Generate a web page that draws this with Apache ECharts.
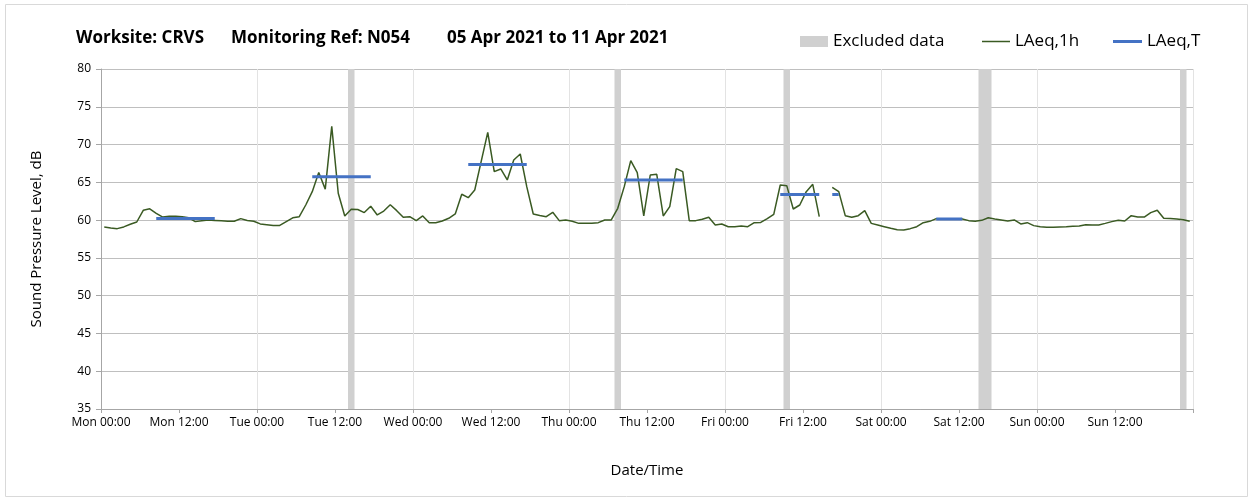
<!DOCTYPE html>
<html>
<head>
<meta charset="utf-8">
<script src="https://cdn.jsdelivr.net/npm/echarts@6/dist/echarts.min.js"></script>
<style>
  html, body { margin: 0; padding: 0; background: #fff; }
  #chart { width: 1253px; height: 503px; }
</style>
</head>
<body>
<div id="chart"></div>
<script>
// tick labels, one every 12 hours from Mon 00:00
var tickLabels = ['Mon 00:00', 'Mon 12:00', 'Tue 00:00', 'Tue 12:00', 'Wed 00:00', 'Wed 12:00',
  'Thu 00:00', 'Thu 12:00', 'Fri 00:00', 'Fri 12:00', 'Sat 00:00', 'Sat 12:00',
  'Sun 00:00', 'Sun 12:00', ''];

// hourly LAeq,1h values (hour index 0 = Mon 00:00), null = no data
var laeq1h = [
  59.1, 58.96, 58.87, 59.1, 59.45, 59.75, 61.3, 61.5, 60.9, 60.4, 60.5, 60.5,
  60.45, 60.3, 59.8, 59.9, 60.0, 59.95, 59.9, 59.85, 59.85, 60.2, 59.95, 59.85,
  59.5, 59.4, 59.3, 59.3, 59.8, 60.3, 60.45, 62.0, 63.76, 66.3, 64.1, 72.4,
  63.55, 60.55, 61.43, 61.4, 61.0, 61.83, 60.68, 61.2, 62.04, 61.25, 60.37, 60.45,
  59.93, 60.55, 59.66, 59.66, 59.88, 60.24, 60.81, 63.42, 62.97, 63.99, 67.8, 71.62,
  66.41, 66.77, 65.31, 67.96, 68.75, 64.43, 60.81, 60.6, 60.45, 61.03, 59.93, 60.0,
  59.85, 59.57, 59.57, 59.57, 59.66, 60.02, 60.02, 61.56, 64.43, 67.87, 66.28, 60.55,
  65.97, 66.06, 60.55, 61.78, 66.81, 66.41, 59.93, 59.93, 60.11, 60.37, 59.35, 59.49,
  59.13, 59.13, 59.22, 59.13, 59.66, 59.7, 60.19, 60.77, 64.65, 64.56, 61.47, 62.0,
  63.76, 64.74, 60.45, null, 64.34, 63.77, 60.59, 60.37, 60.59, 61.25, 59.57, 59.35,
  59.13, 58.91, 58.73, 58.69, 58.87, 59.13, 59.66, 59.84, 60.19, 60.19, 60.15, 60.15,
  60.15, 59.93, 59.84, 59.97, 60.32, 60.15, 60.02, 59.88, 60.02, 59.49, 59.66, 59.27,
  59.13, 59.04, 59.04, 59.09, 59.13, 59.18, 59.22, 59.4, 59.35, 59.35, 59.57, 59.8,
  59.97, 59.88, 60.59, 60.41, 60.41, 60.99, 61.3, 60.24, 60.2, 60.15, 60.06, 59.84
];

// LAeq,T periods (first and last hour index) and level
var periodStart = [8, 32, 56, 80, 104, 112, 128];
var periodEnd = [17, 41, 65, 89, 110, 113, 132];
var periodLevel = [60.2, 65.75, 67.35, 65.3, 63.4, 63.4, 60.15];

// excluded data, in hours from Mon 00:00
var exclStart = [38, 79, 105, 135, 166];
var exclEnd = [39, 80, 106, 137, 167];

// title pieces
var titleParts = ['Worksite: CRVS', 'Monitoring Ref: N054', '05 Apr 2021 to 11 Apr 2021'];

var green = '#3a5a23';
var blue = '#4472c4';
var font = 'Open Sans';

var lineData = laeq1h.map(function(v, i) {
  return [i + 0.5, v];
});

var periodData = [];
for (var k = 0; k < periodStart.length; k++) {
  for (var h = periodStart[k]; h <= periodEnd[k]; h++) {
    periodData.push([h + 0.5, periodLevel[k]]);
  }
  periodData.push([periodEnd[k] + 1, null]);
}

var exclAreas = exclStart.map(function(s, i) {
  return [{ xAxis: s }, { xAxis: exclEnd[i] }];
});

var titleLeft = [76, 231, 447];
var titles = titleParts.map(function(t, i) {
  return {
    text: t,
    left: titleLeft[i],
    top: 30,
    padding: 0,
    textStyle: { fontFamily: font, fontSize: 17, fontWeight: 'bold', color: '#000' }
  };
});

var legendText = { fontFamily: font, fontSize: 17, color: '#000' };

var chart = echarts.init(document.getElementById('chart'));

var option = {
  animation: false,
  textStyle: { fontFamily: font },
  graphic: [{
    type: 'rect',
    shape: { x: 5.5, y: 4.5, width: 1242, height: 492 },
    style: { fill: 'none', stroke: '#d9d9d9', lineWidth: 1 },
    silent: true
  }],
  title: titles,
  legend: [{
    data: ['Excluded data'],
    left: 800,
    top: 33,
    padding: 0,
    icon: 'rect',
    itemWidth: 28,
    itemHeight: 11,
    itemGap: 5,
    textStyle: legendText
  }, {
    data: ['LAeq,1h'],
    left: 982,
    top: 33,
    padding: 0,
    icon: 'rect',
    itemWidth: 28,
    itemHeight: 1.5,
    textStyle: legendText
  }, {
    data: ['LAeq,T'],
    left: 1113,
    top: 33,
    padding: 0,
    icon: 'rect',
    itemWidth: 29,
    itemHeight: 3,
    textStyle: legendText
  }],
  grid: { left: 101, right: 60, top: 69, bottom: 94 },
  xAxis: [{
    type: 'value',
    min: 0,
    max: 168,
    interval: 12,
    name: 'Date/Time',
    nameLocation: 'middle',
    nameGap: 54,
    nameTextStyle: { fontFamily: font, fontSize: 15, color: '#000' },
    axisLine: { lineStyle: { color: '#a6a6a6' } },
    axisTick: { show: true, length: 4, lineStyle: { color: '#a6a6a6' } },
    axisLabel: {
      fontFamily: font, fontSize: 12, color: '#000', margin: 8,
      formatter: function(v) { return tickLabels[Math.round(v / 12)]; }
    },
    splitLine: { show: false }
  }, {
    type: 'value',
    min: 0,
    max: 168,
    interval: 24,
    position: 'bottom',
    axisLine: { show: false },
    axisTick: { show: false },
    axisLabel: { show: false },
    splitLine: { show: true, lineStyle: { color: '#e3e3e3', width: 1 } }
  }],
  yAxis: {
    type: 'value',
    min: 35,
    max: 80,
    interval: 5,
    name: 'Sound Pressure Level, dB',
    nameLocation: 'middle',
    nameGap: 57,
    nameTextStyle: { fontFamily: font, fontSize: 15, color: '#000' },
    axisLine: { show: true, lineStyle: { color: '#a6a6a6' } },
    axisTick: { show: true, length: 5, lineStyle: { color: '#a6a6a6' } },
    axisLabel: { fontFamily: font, fontSize: 12, color: '#000', margin: 10 },
    splitLine: { show: true, lineStyle: { color: '#bfbfbf' } }
  },
  series: [{
    name: 'Excluded data',
    type: 'line',
    data: [],
    z: 1,
    color: '#d0d0d0',
    itemStyle: { color: '#d0d0d0' },
    markArea: {
      silent: true,
      itemStyle: { color: '#d0d0d0' },
      data: exclAreas
    }
  }, {
    name: 'LAeq,1h',
    type: 'line',
    data: lineData,
    z: 3,
    symbol: 'none',
    connectNulls: false,
    color: green,
    itemStyle: { color: green },
    lineStyle: { color: green, width: 1.5 }
  }, {
    name: 'LAeq,T',
    type: 'line',
    data: periodData,
    z: 4,
    symbol: 'none',
    connectNulls: false,
    color: blue,
    itemStyle: { color: blue },
    lineStyle: { color: blue, width: 3 }
  }]
};

chart.setOption(option);
</script>
</body>
</html>
